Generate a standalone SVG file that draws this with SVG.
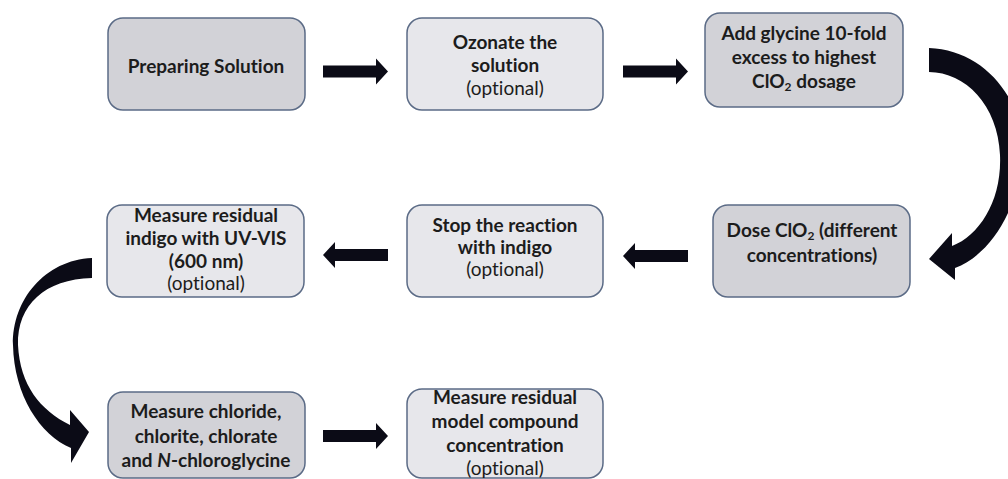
<svg xmlns="http://www.w3.org/2000/svg" width="1008" height="479" viewBox="0 0 1008 479">
<style>
.box{stroke:#5b6b86;stroke-width:1.5}
.dark{fill:#d2d2d7}
.light{fill:#e7e7eb}
text{font-family:Lato,"Liberation Sans",sans-serif;font-size:19px;fill:#1c1c1c;text-anchor:middle;font-variant-ligatures:none}
.b{font-weight:bold}
.r{font-weight:normal}
.sub{font-size:12px}
.arw{fill:#0b0b16}
</style>
<defs>
<path id="rarrow" d="M0,-6 H53 V-13 L65,0 L53,13 V6 H0 Z"/>
</defs>
<rect width="1008" height="479" fill="#ffffff"/>
<g id="connectors" class="arw">
<use href="#rarrow" transform="translate(323,71.5)"/>
<use href="#rarrow" transform="translate(623,71.5)"/>
<use href="#rarrow" transform="translate(388,255) scale(-1,1)"/>
<use href="#rarrow" transform="translate(688,256) scale(-1,1)"/>
<use href="#rarrow" transform="translate(323,436)"/>
<path d="M929,48 C985,50 1025,100 1022,155 C1019,210 990,255 955,268 L955,280 L929,259 L952,233 L952,246 C980,235 1002,200 1000,155 C998,105 965,72 929,72 Z"/>
<path d="M92,258 C45,260 12,300 13,345 C14,395 40,435 71,448 L71,463 L89,432 L70,410 L70,425 C40,410 20,385 18,345 C17,305 45,279 92,278 Z"/>
</g>
<g id="n1"><rect class="box dark" x="108" y="18" width="197" height="92" rx="15"/>
<text class="b" x="206" y="73">Preparing Solution</text></g>
<g id="n2"><rect class="box light" x="407" y="18" width="196" height="92" rx="15"/>
<text class="b" x="505" y="49">Ozonate the</text>
<text class="b" x="505" y="72">solution</text>
<text class="r" x="505" y="95">(optional)</text></g>
<g id="n3"><rect class="box dark" x="705" y="13" width="198" height="94" rx="15"/>
<text class="b" x="804" y="40">Add glycine 10-fold</text>
<text class="b" x="804" y="64">excess to highest</text>
<text class="b" x="804" y="88">ClO<tspan class="sub" dy="3">2</tspan><tspan dy="-3"> dosage</tspan></text></g>
<g id="n4"><rect class="box dark" x="713" y="205" width="197" height="92" rx="15"/>
<text class="b" x="812" y="237">Dose ClO<tspan class="sub" dy="3">2</tspan><tspan dy="-3"> (different</tspan></text>
<text class="b" x="812" y="262">concentrations)</text></g>
<g id="n5"><rect class="box light" x="407" y="205" width="196" height="92" rx="15"/>
<text class="b" x="505" y="232">Stop the reaction</text>
<text class="b" x="505" y="254">with indigo</text>
<text class="r" x="505" y="276">(optional)</text></g>
<g id="n6"><rect class="box light" x="107" y="205" width="197" height="92" rx="15"/>
<text class="b" x="206" y="222">Measure residual</text>
<text class="b" x="206" y="245">indigo with UV-VIS</text>
<text class="b" x="206" y="268">(600 nm)</text>
<text class="r" x="206" y="290">(optional)</text></g>
<g id="n7"><rect class="box dark" x="108" y="392" width="197" height="86" rx="15"/>
<text class="b" x="206" y="418">Measure chloride,</text>
<text class="b" x="206" y="443">chlorite, chlorate</text>
<text class="b" x="206" y="467">and <tspan font-style="italic">N</tspan>-chloroglycine</text></g>
<g id="n8"><rect class="box light" x="407" y="389" width="196" height="89" rx="15"/>
<text class="b" x="505" y="404">Measure residual</text>
<text class="b" x="505" y="428">model compound</text>
<text class="b" x="505" y="452">concentration</text>
<text class="r" x="505" y="475">(optional)</text></g>
</svg>
